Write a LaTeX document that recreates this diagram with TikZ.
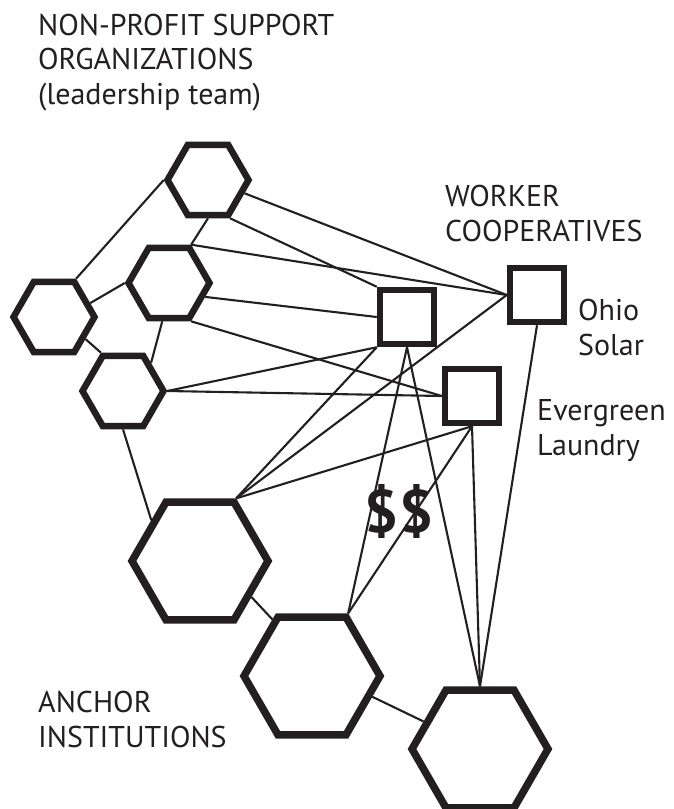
\documentclass[tikz,border=0pt]{standalone}
\usepackage{fontspec}
\setmainfont{PT Sans}
\usetikzlibrary{shapes.geometric}
\definecolor{ink}{HTML}{231F20}

\begin{document}
\begin{tikzpicture}[x=1pt,y=-1pt,
  hexsmall/.style={regular polygon,regular polygon sides=6,draw=ink,fill=white,line width=6.5pt,minimum size=81pt,inner sep=0pt},
  hexbig/.style={hexsmall,line width=7.5pt,minimum size=136pt},
  coop/.style={rectangle,draw=ink,fill=white,line width=6.5pt,minimum size=54pt,inner sep=0pt},
  link/.style={draw=ink,line width=2.1pt},
  label/.style={anchor=base west,align=left,text=ink,inner sep=0pt,font=\fontsize{30}{34.5}\selectfont}]
\useasboundingbox (0,0) rectangle (673,809);

\node[hexsmall] (h1) at (208,180) {};
\node[hexsmall] (h2) at (169,283) {};
\node[hexsmall] (h3) at (54,317) {};
\node[hexsmall] (h4) at (123,391) {};
\node[hexbig] (b1) at (200,561) {};
\node[hexbig] (b2) at (312,676) {};
\node[hexbig] (b3) at (480,749) {};
\node[coop] (s1) at (407,317) {};
\node[coop] (s2) at (537,295) {};
\node[coop] (s3) at (472,396) {};

\draw[link] (h1.180) -- (h3.60);
\draw[link] (h1.270) -- (h2.60);
\draw[link] (h2.180) -- (h3.21);
\draw[link] (h3.-35) -- (h4.120);
\draw[link] (h2.-100) -- (h4.45);
\draw[link] (h4.270) -- (b1.140);
\draw[link] (b1.-35) -- (b2.125);
\draw[link] (b2.-19) -- (b3.154);

\draw[link] (h1.-20) -- (s2.west);
\draw[link] (h1.-60) -- (s1.north west);
\draw[link] (h2.60) -- (s2.west);
\draw[link] (h2.-21) -- (s1.west);
\draw[link] (h2.-60) -- (s3.west);
\draw[link] (h4.0) -- (s3.west);
\draw[link] (h4.0) -- (s1.south west);
\draw[link] (b1.60) -- (s1.south west);
\draw[link] (b1.60) -- (s2.west);
\draw[link] (b1.60) -- (s3.south);
\draw[link] (b2.60) -- (s1.south);
\draw[link] (b2.60) -- (s3.south);
\draw[link] (b3.90) -- (s1.south);
\draw[link] (b3.90) -- (s3.south);
\draw[link] (b3.90) -- (s2.south);

\node[label] (nonprofit) at (38,104) {NON-PROFIT SUPPORT\\ORGANIZATIONS\\(leadership team)};
\node[label] (worker) at (445,241) {WORKER\\COOPERATIVES};
\node[label] (ohio) at (578,355) {Ohio\\Solar};
\node[label] (evergreen) at (537,455) {Evergreen\\Laundry};
\node[label] (anchor) at (38,747) {ANCHOR\\INSTITUTIONS};
\node[text=ink,font=\fontsize{60}{64}\selectfont\bfseries] (money) at (399,511) {\$\$};
\end{tikzpicture}
\end{document}
